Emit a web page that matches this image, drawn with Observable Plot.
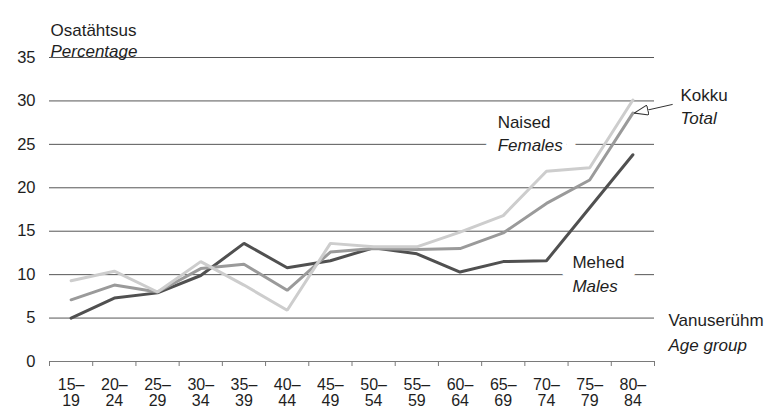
<!DOCTYPE html>
<html>
<head>
<meta charset="utf-8">
<script src="https://cdn.jsdelivr.net/npm/d3@7"></script>
<script src="https://cdn.jsdelivr.net/npm/@observablehq/plot@0.6"></script>
<style>
  html, body { margin: 0; padding: 0; background: #fff; }
</style>
</head>
<body>
<div id="chart"></div>
<script>
// ---- data ----
const ageGroups = ["15–19", "20–24", "25–29", "30–34", "35–39", "40–44", "45–49",
                   "50–54", "55–59", "60–64", "65–69", "70–74", "75–79", "80–84"];
const males   = [5.0, 7.3, 7.9, 9.9, 13.6, 10.8, 11.6, 13.1, 12.4, 10.3, 11.5, 11.6, 17.7, 23.8];
const total   = [7.1, 8.8, 8.0, 10.7, 11.2, 8.2, 12.6, 13.0, 12.9, 13.0, 14.8, 18.2, 20.9, 28.6];
const females = [9.3, 10.4, 8.0, 11.5, 8.8, 5.9, 13.6, 13.2, 13.2, 14.9, 16.8, 21.9, 22.3, 30.1];
const seriesNames = ["Mehed", "Kokku", "Naised"];
const seriesColors = ["#505050", "#9a9a9a", "#cdcdcd"];
const yTicks = [0, 5, 10, 15, 20, 25, 30, 35];

const seriesValues = [males, total, females];
const rows = seriesNames.flatMap((name, s) =>
  seriesValues[s].map((value, i) => ({ group: name, i, age: ageGroups[i], value })));

const font = "'Liberation Sans', Arial, Helvetica, sans-serif";
const n = ageGroups.length;
const ink = "#1e1e1e";
const lbl = { fill: ink, fontSize: 17, textAnchor: "start" };

const plot = Plot.plot({
  width: 768,
  height: 408,
  marginLeft: 49,
  marginRight: 114,
  marginTop: 57,
  marginBottom: 47,
  style: { fontFamily: font, fontSize: "16.5px", color: ink, background: "#fff", overflow: "visible" },
  x: { type: "linear", domain: [-0.5, n - 0.5] },
  y: { domain: [0, 35] },
  color: { domain: seriesNames, range: seriesColors },
  marks: [
    // gridlines
    Plot.ruleY(yTicks.filter(d => d > 0), { stroke: "#555", strokeWidth: 1 }),
    Plot.ruleY([0], { stroke: "#7a7a7a", strokeWidth: 1 }),
    // x boundary ticks
    Plot.axisX(d3.range(n + 1).map(i => i - 0.5), {
      tickSize: 5, tickFormat: () => "", stroke: "#7a7a7a", label: null
    }),
    // x labels
    Plot.axisX(d3.range(n), {
      tickSize: 0, tickPadding: 17, lineHeight: 1.0, label: null, fontSize: 16,
      tickFormat: i => ageGroups[i].replace("–", "–\n"), fill: ink
    }),
    // y labels
    Plot.axisY(yTicks, { tickSize: 0, tickPadding: 14, label: null, fill: ink }),
    // axis titles
    Plot.text(["Osatähtsus"], { ...lbl, frameAnchor: "top-left", dx: 1, dy: -34 }),
    Plot.text(["Percentage"], { ...lbl, frameAnchor: "top-left", dx: 1, dy: -13, fontStyle: "italic" }),
    Plot.text(["Vanuserühm"], { ...lbl, frameAnchor: "bottom-right", dx: 14, dy: -36 }),
    Plot.text(["Age group"], { ...lbl, frameAnchor: "bottom-right", dx: 14, dy: -11, fontStyle: "italic" }),
    // series labels (with white knock-out behind the gridline they sit on)
    Plot.text(["Females"], { ...lbl, x: 9.87, y: 24.9, fontStyle: "italic", stroke: "#fff", strokeWidth: 26 }),
    Plot.text(["Naised"], { ...lbl, x: 9.87, y: 27.5 }),
    Plot.text(["Mehed"], { ...lbl, x: 11.6, y: 11.4, stroke: "#fff", strokeWidth: 26 }),
    Plot.text(["Males"], { ...lbl, x: 11.6, y: 8.6, fontStyle: "italic" }),
    Plot.text(["Kokku"], { ...lbl, x: 14.1, y: 30.6 }),
    Plot.text(["Total"], { ...lbl, x: 14.1, y: 28.0, fontStyle: "italic" }),
    // data lines
    Plot.line(rows, { x: "i", y: "value", z: "group", stroke: "group", strokeWidth: 3, strokeLinejoin: "miter" }),
    // arrow for "Kokku / Total"
    Plot.link([{ x1: 13.92, y1: 29.6, x2: 13.03, y2: 28.6 }], {
      x1: "x1", y1: "y1", x2: "x2", y2: "y2", stroke: "#333", strokeWidth: 1
    })
  ]
});

// open triangular arrowhead
const svg = d3.select(plot);
svg.append("defs").append("marker")
  .attr("id", "openTri")
  .attr("viewBox", "0 0 15 11")
  .attr("refX", 14.5).attr("refY", 5.5)
  .attr("markerWidth", 15).attr("markerHeight", 11)
  .attr("markerUnits", "userSpaceOnUse")
  .attr("orient", "auto")
  .append("path")
  .attr("d", "M0.5,0.5 L14.5,5.5 L0.5,10.5 Z")
  .attr("fill", "#fff").attr("stroke", "#333").attr("stroke-width", 1);
svg.selectAll('g[aria-label="link"] path').attr("marker-end", "url(#openTri)");

document.getElementById("chart").appendChild(plot);
</script>
</body>
</html>
